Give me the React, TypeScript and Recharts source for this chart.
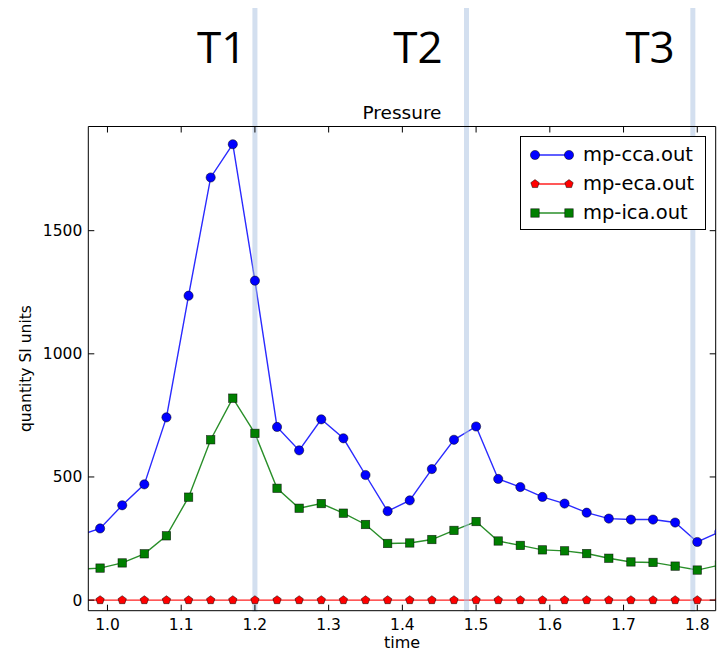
import React from 'react';
import { LineChart, Line, XAxis, YAxis, ReferenceLine, Label } from 'recharts';

const TIMES = [0.96, 0.99, 1.02, 1.05, 1.08, 1.11, 1.14, 1.17, 1.2, 1.23, 1.26, 1.29, 1.32, 1.35, 1.38,
  1.41, 1.44, 1.47, 1.5, 1.53, 1.56, 1.59, 1.62, 1.65, 1.68, 1.71, 1.74, 1.77, 1.8, 1.83];
const CCA = [261, 291, 385, 470, 742, 1236, 1716, 1851, 1297, 703, 608, 734, 657, 508, 361,
  405, 532, 651, 705, 492, 459, 419, 392, 355, 331, 327, 327, 315, 236, 277];
const ECA = [0, 0, 0, 0, 0, 0, 0, 0, 0, 0, 0, 0, 0, 0, 0,
  0, 0, 0, 0, 0, 0, 0, 0, 0, 0, 0, 0, 0, 0, 0];
const ICA = [125, 130, 151, 188, 261, 418, 651, 820, 677, 454, 373, 392, 353, 307, 230,
  232, 246, 283, 319, 240, 222, 204, 200, 189, 170, 155, 153, 138, 122, 142];

const X_TICKS = [1.0, 1.1, 1.2, 1.3, 1.4, 1.5, 1.6, 1.7, 1.8];
const Y_TICKS = [0, 500, 1000, 1500];
const X_DOMAIN = [0.974, 1.825];
const Y_DOMAIN = [-43, 1923];

// phase markers drawn over the plot
const BAND_TIMES = [1.2, 1.487, 1.794];
const PHASE_LABELS = ['T1', 'T2', 'T3'];
const PHASE_LABEL_TIMES = [1.155, 1.421, 1.736];

const SERIES = [
  { key: 'cca', name: 'mp-cca.out', color: '#0000ff', line: '#2a2aff', marker: 'circle' },
  { key: 'eca', name: 'mp-eca.out', color: '#ff0000', line: '#ff2020', marker: 'pentagon' },
  { key: 'ica', name: 'mp-ica.out', color: '#007f00', line: '#2a8f2a', marker: 'square' },
];

const data = TIMES.map((t, i) => ({ t, cca: CCA[i], eca: ECA[i], ica: ICA[i] }));

const FONT = '"DejaVu Sans", sans-serif';

const Marker = ({ cx, cy, shape, color }: any) => {
  const edge = { stroke: '#000', strokeWidth: 0.7, strokeOpacity: 0.7 };
  if (shape === 'circle') return <circle cx={cx} cy={cy} r={4.6} fill={color} {...edge} />;
  if (shape === 'square') return <rect x={cx - 4.2} y={cy - 4.2} width={8.4} height={8.4} fill={color} {...edge} />;
  const pts = [0, 1, 2, 3, 4].map(k => {
    const a = (-90 + 72 * k) * Math.PI / 180;
    return `${cx + 4.4 * Math.cos(a)},${cy + 4.4 * Math.sin(a)}`;
  }).join(' ');
  return <polygon points={pts} fill={color} {...edge} />;
};

const BottomTick = ({ x, y, payload }: any) => (
  <g>
    <line x1={x} x2={x} y1={y} y2={y - 6} stroke="#000" />
    <text x={x} y={y + 19} textAnchor="middle" fontSize={15.5} fontFamily={FONT} fill="#000">
      {payload.value.toFixed(1)}
    </text>
  </g>
);
const TopTick = ({ x, y }: any) => <line x1={x} x2={x} y1={y} y2={y + 6} stroke="#000" />;
const LeftTick = ({ x, y, payload }: any) => (
  <g>
    <line x1={x} x2={x + 6} y1={y} y2={y} stroke="#000" />
    <text x={x - 6} y={y + 5.5} textAnchor="end" fontSize={15.5} fontFamily={FONT} fill="#000">
      {payload.value}
    </text>
  </g>
);
const RightTick = ({ x, y }: any) => <line x1={x} x2={x - 6} y1={y} y2={y} stroke="#000" />;

const Band = (props: any) => {
  const { x1, y1, y2 } = props;
  const bottom = Math.max(y1, y2) + 1;
  return <rect x={x1 - 2.5} y={8} width={5} height={bottom - 8} fill="#a8bfe0" fillOpacity={0.5} />;
};

const PhaseText = (label: string) => (props: any) => (
  <text x={props.x1} y={63} textAnchor="middle" fontSize={44} fontFamily='"Open Sans", sans-serif' fill="#000">
    {label}
  </text>
);

const TitleText = (props: any) => {
  const y = Math.min(props.y1, props.y2);
  return (
    <text x={props.x1} y={y - 8} textAnchor="middle" fontSize={18.5} fontFamily={FONT} fill="#000">Pressure</text>
  );
};

const LegendBox = () => (
  <div style={{
    position: 'absolute', left: 520, top: 136, width: 184, height: 92, border: '1px solid #000',
    background: '#fff', fontFamily: FONT, fontSize: 19.5,
  }}>
    {SERIES.map((s, i) => (
      <div key={s.key} style={{ position: 'absolute', left: 0, top: 3 + i * 29, height: 29, display: 'flex', alignItems: 'center' }}>
        <svg width={56} height={20} style={{ marginLeft: 6 }}>
          <line x1={8} x2={42} y1={10} y2={10} stroke={s.line} strokeWidth={1.4} />
          <Marker cx={8} cy={10} shape={s.marker} color={s.color} />
          <Marker cx={42} cy={10} shape={s.marker} color={s.color} />
        </svg>
        <span style={{ color: '#000' }}>{s.name}</span>
      </div>
    ))}
  </div>
);

export default function App() {
  return (
    <div style={{ position: 'absolute', left: 0, top: 0, width: 720, height: 652, background: '#fff' }}>
      <LineChart width={720} height={652} data={data} margin={{ top: 125.5, right: 3.3, bottom: 11.3, left: 28.3 }}>
        <XAxis dataKey="t" type="number" domain={X_DOMAIN} allowDataOverflow ticks={X_TICKS}
          height={30} tickSize={0} tickMargin={0} tick={<BottomTick />} axisLine={{ stroke: '#000' }} interval={0}>
          <Label content={(p: any) => (
            <text x={p.viewBox.x + p.viewBox.width / 2} y={p.viewBox.y + 37} textAnchor="middle"
              fontSize={16} fontFamily={FONT} fill="#000">time</text>
          )} />
        </XAxis>
        <XAxis xAxisId="top" dataKey="t" type="number" orientation="top" domain={X_DOMAIN} allowDataOverflow
          ticks={X_TICKS} height={1} tickSize={0} tickMargin={0} tick={<TopTick />} axisLine={{ stroke: '#000' }} interval={0} />
        <YAxis type="number" domain={Y_DOMAIN} allowDataOverflow ticks={Y_TICKS} width={60}
          tickSize={0} tickMargin={0} tick={<LeftTick />} axisLine={{ stroke: '#000' }} interval={0}>
          <Label content={(p: any) => {
            const cx = p.viewBox.x - 2;
            const cy = p.viewBox.y + p.viewBox.height / 2;
            return (
              <text x={cx} y={cy} transform={`rotate(-90 ${cx} ${cy})`} textAnchor="middle" dominantBaseline="central"
                fontSize={15.5} fontFamily={FONT} fill="#000">quantity SI units</text>
            );
          }} />
        </YAxis>
        <YAxis yAxisId="right" orientation="right" type="number" domain={Y_DOMAIN} allowDataOverflow ticks={Y_TICKS}
          width={1} tickSize={0} tickMargin={0} tick={<RightTick />} axisLine={{ stroke: '#000' }} interval={0} />
        {SERIES.map(s => (
          <Line key={s.key} dataKey={s.key} name={s.name} stroke={s.line} strokeWidth={1.4}
            isAnimationActive={false}
            dot={(p: any) => <Marker key={`${s.key}-${p.index}`} cx={p.cx} cy={p.cy} shape={s.marker} color={s.color} />} />
        ))}
        <ReferenceLine x={(X_DOMAIN[0] + X_DOMAIN[1]) / 2} stroke="none" shape={TitleText} />
        {BAND_TIMES.map(t => (
          <ReferenceLine key={`b${t}`} x={t} shape={Band} />
        ))}
        {PHASE_LABEL_TIMES.map((t, i) => (
          <ReferenceLine key={`l${t}`} x={t} shape={PhaseText(PHASE_LABELS[i])} />
        ))}
      </LineChart>
      <LegendBox />
    </div>
  );
}
